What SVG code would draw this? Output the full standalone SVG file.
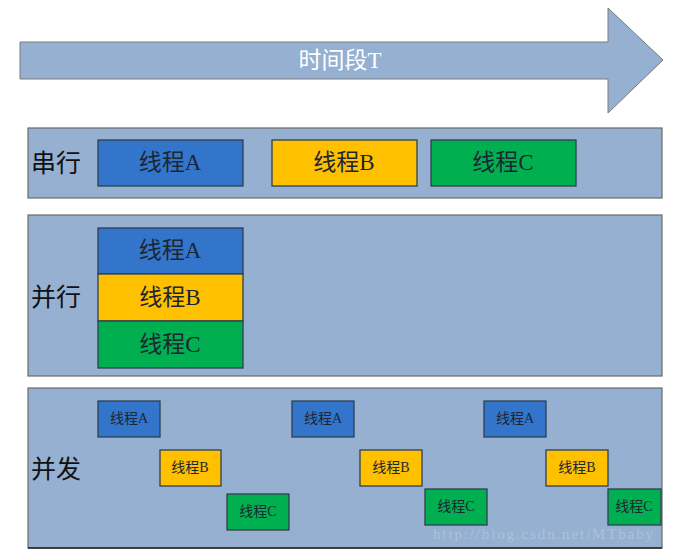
<svg xmlns="http://www.w3.org/2000/svg" width="681" height="558" viewBox="0 0 681 558">
<style>
.panel{fill:#95B0D0;stroke:#6b6b6b;stroke-width:1.2}
.box{stroke:#2e3f52;stroke-width:1.3}
.a{fill:#3375CB}.b{fill:#FFC000}.c{fill:#00B050}
.t{font-family:"Liberation Serif","Noto Sans CJK SC",serif;fill:#1c2733;text-anchor:middle;dominant-baseline:central}
.big{font-size:23px}.small{font-size:14px}
.lbl{font-family:"Noto Sans CJK SC",sans-serif;font-size:25px;fill:#111;dominant-baseline:central}
</style>
<rect width="681" height="558" fill="#fff"/>
<g id="timeline">
<polygon points="20,42 608,42 608,8 663,60 608,113 608,79 20,79" fill="#95B0D0" stroke="#7a7a7a" stroke-width="1"/>
<text x="340" y="60" class="t" style="fill:#fff;font-size:23px">时间段T</text>
</g>
<g id="serial">
<rect class="panel" x="28" y="128" width="634" height="70"/>
<text class="lbl" x="31" y="161">串行</text>
<g id="serial-A"><rect class="box a" x="98" y="140" width="145" height="46"/><text class="t big" x="170" y="162">线程A</text></g>
<g id="serial-B"><rect class="box b" x="272" y="140" width="145" height="46"/><text class="t big" x="344" y="162">线程B</text></g>
<g id="serial-C"><rect class="box c" x="431" y="140" width="145" height="46"/><text class="t big" x="503" y="162">线程C</text></g>
</g>
<g id="parallel">
<rect class="panel" x="28" y="215" width="634" height="161"/>
<text class="lbl" x="31" y="295">并行</text>
<g id="parallel-A"><rect class="box a" x="98" y="228" width="145" height="46"/><text class="t big" x="170" y="250">线程A</text></g>
<g id="parallel-B"><rect class="box b" x="98" y="274" width="145" height="47"/><text class="t big" x="170" y="297">线程B</text></g>
<g id="parallel-C"><rect class="box c" x="98" y="321" width="145" height="47"/><text class="t big" x="170" y="344">线程C</text></g>
</g>
<g id="concurrent">
<rect class="panel" x="28" y="388" width="634" height="160"/>
<line x1="28" y1="548" x2="662" y2="548" stroke="#222" stroke-width="1.5"/>
<text class="lbl" x="31" y="467">并发</text>
<g id="conc-A1"><rect class="box a" x="98" y="401" width="62" height="36"/><text class="t small" x="129" y="418">线程A</text></g>
<g id="conc-B1"><rect class="box b" x="160" y="450" width="61" height="36"/><text class="t small" x="190" y="467">线程B</text></g>
<g id="conc-C1"><rect class="box c" x="227" y="494" width="62" height="36"/><text class="t small" x="258" y="511">线程C</text></g>
<g id="conc-A2"><rect class="box a" x="292" y="401" width="62" height="36"/><text class="t small" x="323" y="418">线程A</text></g>
<g id="conc-B2"><rect class="box b" x="360" y="450" width="62" height="36"/><text class="t small" x="391" y="467">线程B</text></g>
<g id="conc-C2"><rect class="box c" x="425" y="489" width="62" height="36"/><text class="t small" x="456" y="506">线程C</text></g>
<g id="conc-A3"><rect class="box a" x="484" y="401" width="62" height="36"/><text class="t small" x="515" y="418">线程A</text></g>
<g id="conc-B3"><rect class="box b" x="546" y="450" width="62" height="36"/><text class="t small" x="577" y="467">线程B</text></g>
<g id="conc-C3"><rect class="box c" x="608" y="489" width="53" height="36"/><text class="t small" x="634" y="506">线程C</text></g>
<text x="433" y="539" textLength="220" style="font-family:'Liberation Serif',serif;font-size:15px;fill:#fff;opacity:0.22">http://blog.csdn.net/MTbaby</text>
</g>
<g id="connectors"></g>
</svg>
